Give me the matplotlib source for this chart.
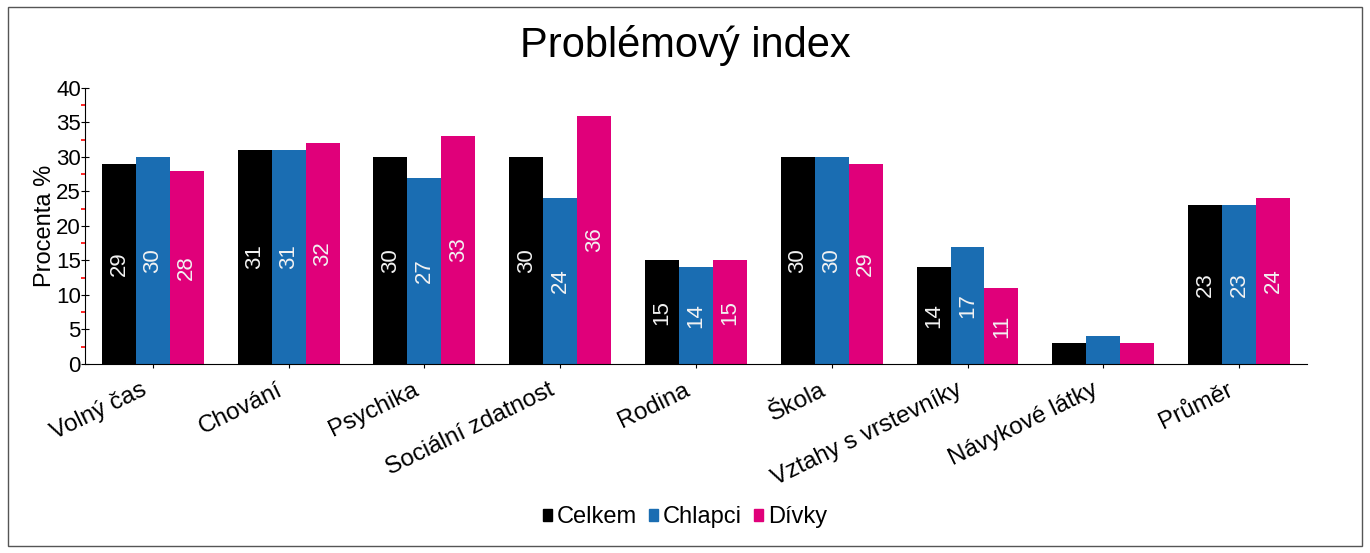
import numpy as np
import matplotlib
matplotlib.use('Agg')
import matplotlib.pyplot as plt
from matplotlib.patches import Rectangle, Patch
from matplotlib.ticker import MultipleLocator
from matplotlib.transforms import ScaledTranslation

plt.rcParams['font.family'] = ['Liberation Sans', 'DejaVu Sans']

# Daten
kategorie = ['Volný čas', 'Chování', 'Psychika', 'Sociální zdatnost', 'Rodina',
             'Škola', 'Vztahy s vrstevníky', 'Návykové látky', 'Průměr']
celkem = [29, 31, 30, 30, 15, 30, 14, 3, 23]
chlapci = [30, 31, 27, 24, 14, 30, 17, 4, 23]
divky = [28, 32, 33, 36, 15, 29, 11, 3, 24]
serie = ['Celkem', 'Chlapci', 'Dívky']
barvy = ['#000000', '#1a6db2', '#e0007a']

fig = plt.figure(figsize=(13.7, 5.53), dpi=100)
ax = fig.add_axes([0.062, 0.342, 0.892, 0.499])

x = np.arange(len(kategorie))
w = 0.25
for i, (vals, col) in enumerate(zip([celkem, chlapci, divky], barvy)):
    pos = x + (i - 1) * w
    ax.bar(pos, vals, width=w, color=col, label=serie[i])
    for p, v in zip(pos, vals):
        if v >= 5:
            ax.text(p, v / 2, str(v), rotation=90, ha='center', va='center',
                    color='#f2f2f2', fontsize=16)

ax.set_xlim(-0.5, 8.5)
ax.set_ylim(0, 40)
ax.yaxis.set_major_locator(MultipleLocator(5))
ax.yaxis.set_minor_locator(MultipleLocator(2.5))
ax.tick_params(axis='y', which='major', direction='inout', length=6, labelsize=16, pad=0)
ax.tick_params(axis='y', which='minor', direction='out', length=3, color='red', width=1.2)
ax.tick_params(axis='x', length=3, labelsize=17.5, pad=8)
ax.set_xticks(x)
ax.set_xticklabels(kategorie, rotation=26, ha='right', va='top', rotation_mode='anchor')
# Beschriftungen etwas nach links verschieben
posun = ScaledTranslation(-12 / 100, 0, fig.dpi_scale_trans)
for lbl in ax.get_xticklabels():
    lbl.set_transform(lbl.get_transform() + posun)
for s in ['top', 'right']:
    ax.spines[s].set_visible(False)
ax.set_ylabel('Procenta %', fontsize=17, labelpad=0)

fig.text(0.5, 0.918, 'Problémový index', ha='center', va='center', fontsize=30)

handles = [Patch(color=c) for c in barvy]
fig.legend(handles, serie, loc='center', bbox_to_anchor=(0.5, 0.065), ncol=3,
           frameon=False, fontsize=17, handlelength=0.4, handleheight=0.4,
           handletextpad=0.2, columnspacing=0.5)

fig.add_artist(Rectangle((0.006, 0.012), 0.988, 0.975, transform=fig.transFigure,
                         fill=False, edgecolor='#555555', linewidth=1))

fig.savefig('out.png', dpi=100)
